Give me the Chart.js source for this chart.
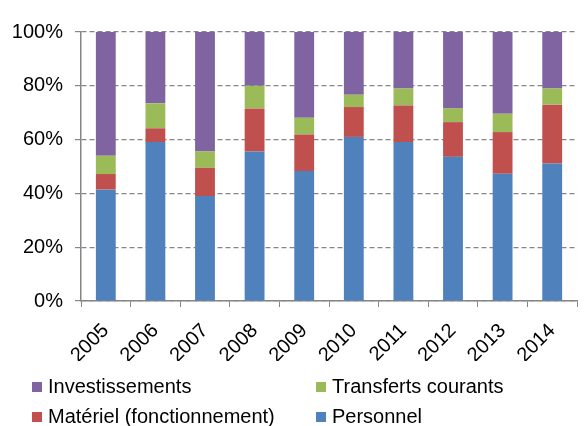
<!DOCTYPE html>
<html lang="fr">
<head>
	<meta charset="UTF-8">
	<title></title>
	<script src="https://cdn.jsdelivr.net/npm/chart.js@4/dist/chart.umd.min.js"></script>
	<style>
		body,html{padding:0;margin:0;background:#fff;}
		#wrap{position:relative;width:585px;height:426px;}
		#legend{position:absolute;left:32px;top:374px;width:553px;font-family:"Liberation Sans",Arial,sans-serif;font-size:20px;color:#000;}
		#legend div{position:absolute;white-space:nowrap;line-height:24px;}
		#legend span.box{display:inline-block;width:10px;height:10px;margin-right:6px;vertical-align:1px;}
	</style>
</head>
<body>
	<div id="wrap">
		<canvas id="myChart" width="585" height="426"></canvas>
		<div id="legend"></div>
	</div>
	<script>
		var years = ['2005','2006','2007','2008','2009','2010','2011','2012','2013','2014'];
		var personnel = [41.4, 59.1, 39.0, 55.6, 48.3, 61.0, 59.1, 53.6, 47.3, 51.1];
		var materiel = [5.8, 5.1, 10.5, 16.0, 13.6, 11.1, 13.6, 12.9, 15.5, 21.9];
		var transferts = [6.8, 9.3, 6.1, 8.4, 6.2, 4.6, 6.3, 5.1, 6.8, 6.0];
		var investissements = [46.0, 26.5, 44.4, 20.0, 31.9, 23.3, 21.0, 28.4, 30.4, 21.0];
		var yTicks = [0, 20, 40, 60, 80, 100];

		var font = {family:'"Liberation Sans", Arial, sans-serif', size:20};
		var axisColor = '#868686';
		var ctx = document.getElementById('myChart').getContext('2d');
		var chart = new Chart(ctx,{
			type:'bar',
			data:{
				labels:years,
				datasets:[
					{label:'Personnel',data:personnel,backgroundColor:'#4F81BD'},
					{label:'Matériel (fonctionnement)',data:materiel,backgroundColor:'#C0504D'},
					{label:'Transferts courants',data:transferts,backgroundColor:'#9BBB59'},
					{label:'Investissements',data:investissements,backgroundColor:'#8064A2'}
				]
			},
			options:{
				responsive:false,
				animation:false,
				layout:{padding:{left:0,top:32,right:8,bottom:65}},
				datasets:{bar:{categoryPercentage:1,barPercentage:0.4}},
				plugins:{legend:{display:false},tooltip:{enabled:false}},
				scales:{
					x:{
						stacked:true,
						offset:true,
						grid:{offset:true,drawOnChartArea:false,drawTicks:true,tickLength:6,color:axisColor},
						border:{color:axisColor,width:1.5},
						ticks:{font:font,color:'#000',maxRotation:45,minRotation:45,padding:12},
						afterFit:function(s){s.height=60;}
					},
					y:{
						stacked:true,
						min:0,max:100,
						afterBuildTicks:function(s){s.ticks=yTicks.map(function(v){return {value:v};});},
						grid:{color:axisColor,lineWidth:1.2,tickLength:6,tickColor:axisColor},
						border:{color:axisColor,width:1.5,dash:[5,3]},
						ticks:{font:font,color:'#000',padding:12,callback:function(v){return v+'%';}},
						afterFit:function(s){s.width=81;}
					}
				}
			}
		});

		// legend in two columns, same order as the reference
		var pos = [[0,0],[284,0],[0,30],[284,30]];
		var order = [3,2,1,0];
		var html = '';
		order.forEach(function(i,k){
			var d = chart.data.datasets[i];
			html += '<div style="left:'+pos[k][0]+'px;top:'+pos[k][1]+'px"><span class="box" style="background:'+d.backgroundColor+'"></span>'+d.label+'</div>';
		});
		document.getElementById('legend').innerHTML = html;
	</script>
</body>
</html>
